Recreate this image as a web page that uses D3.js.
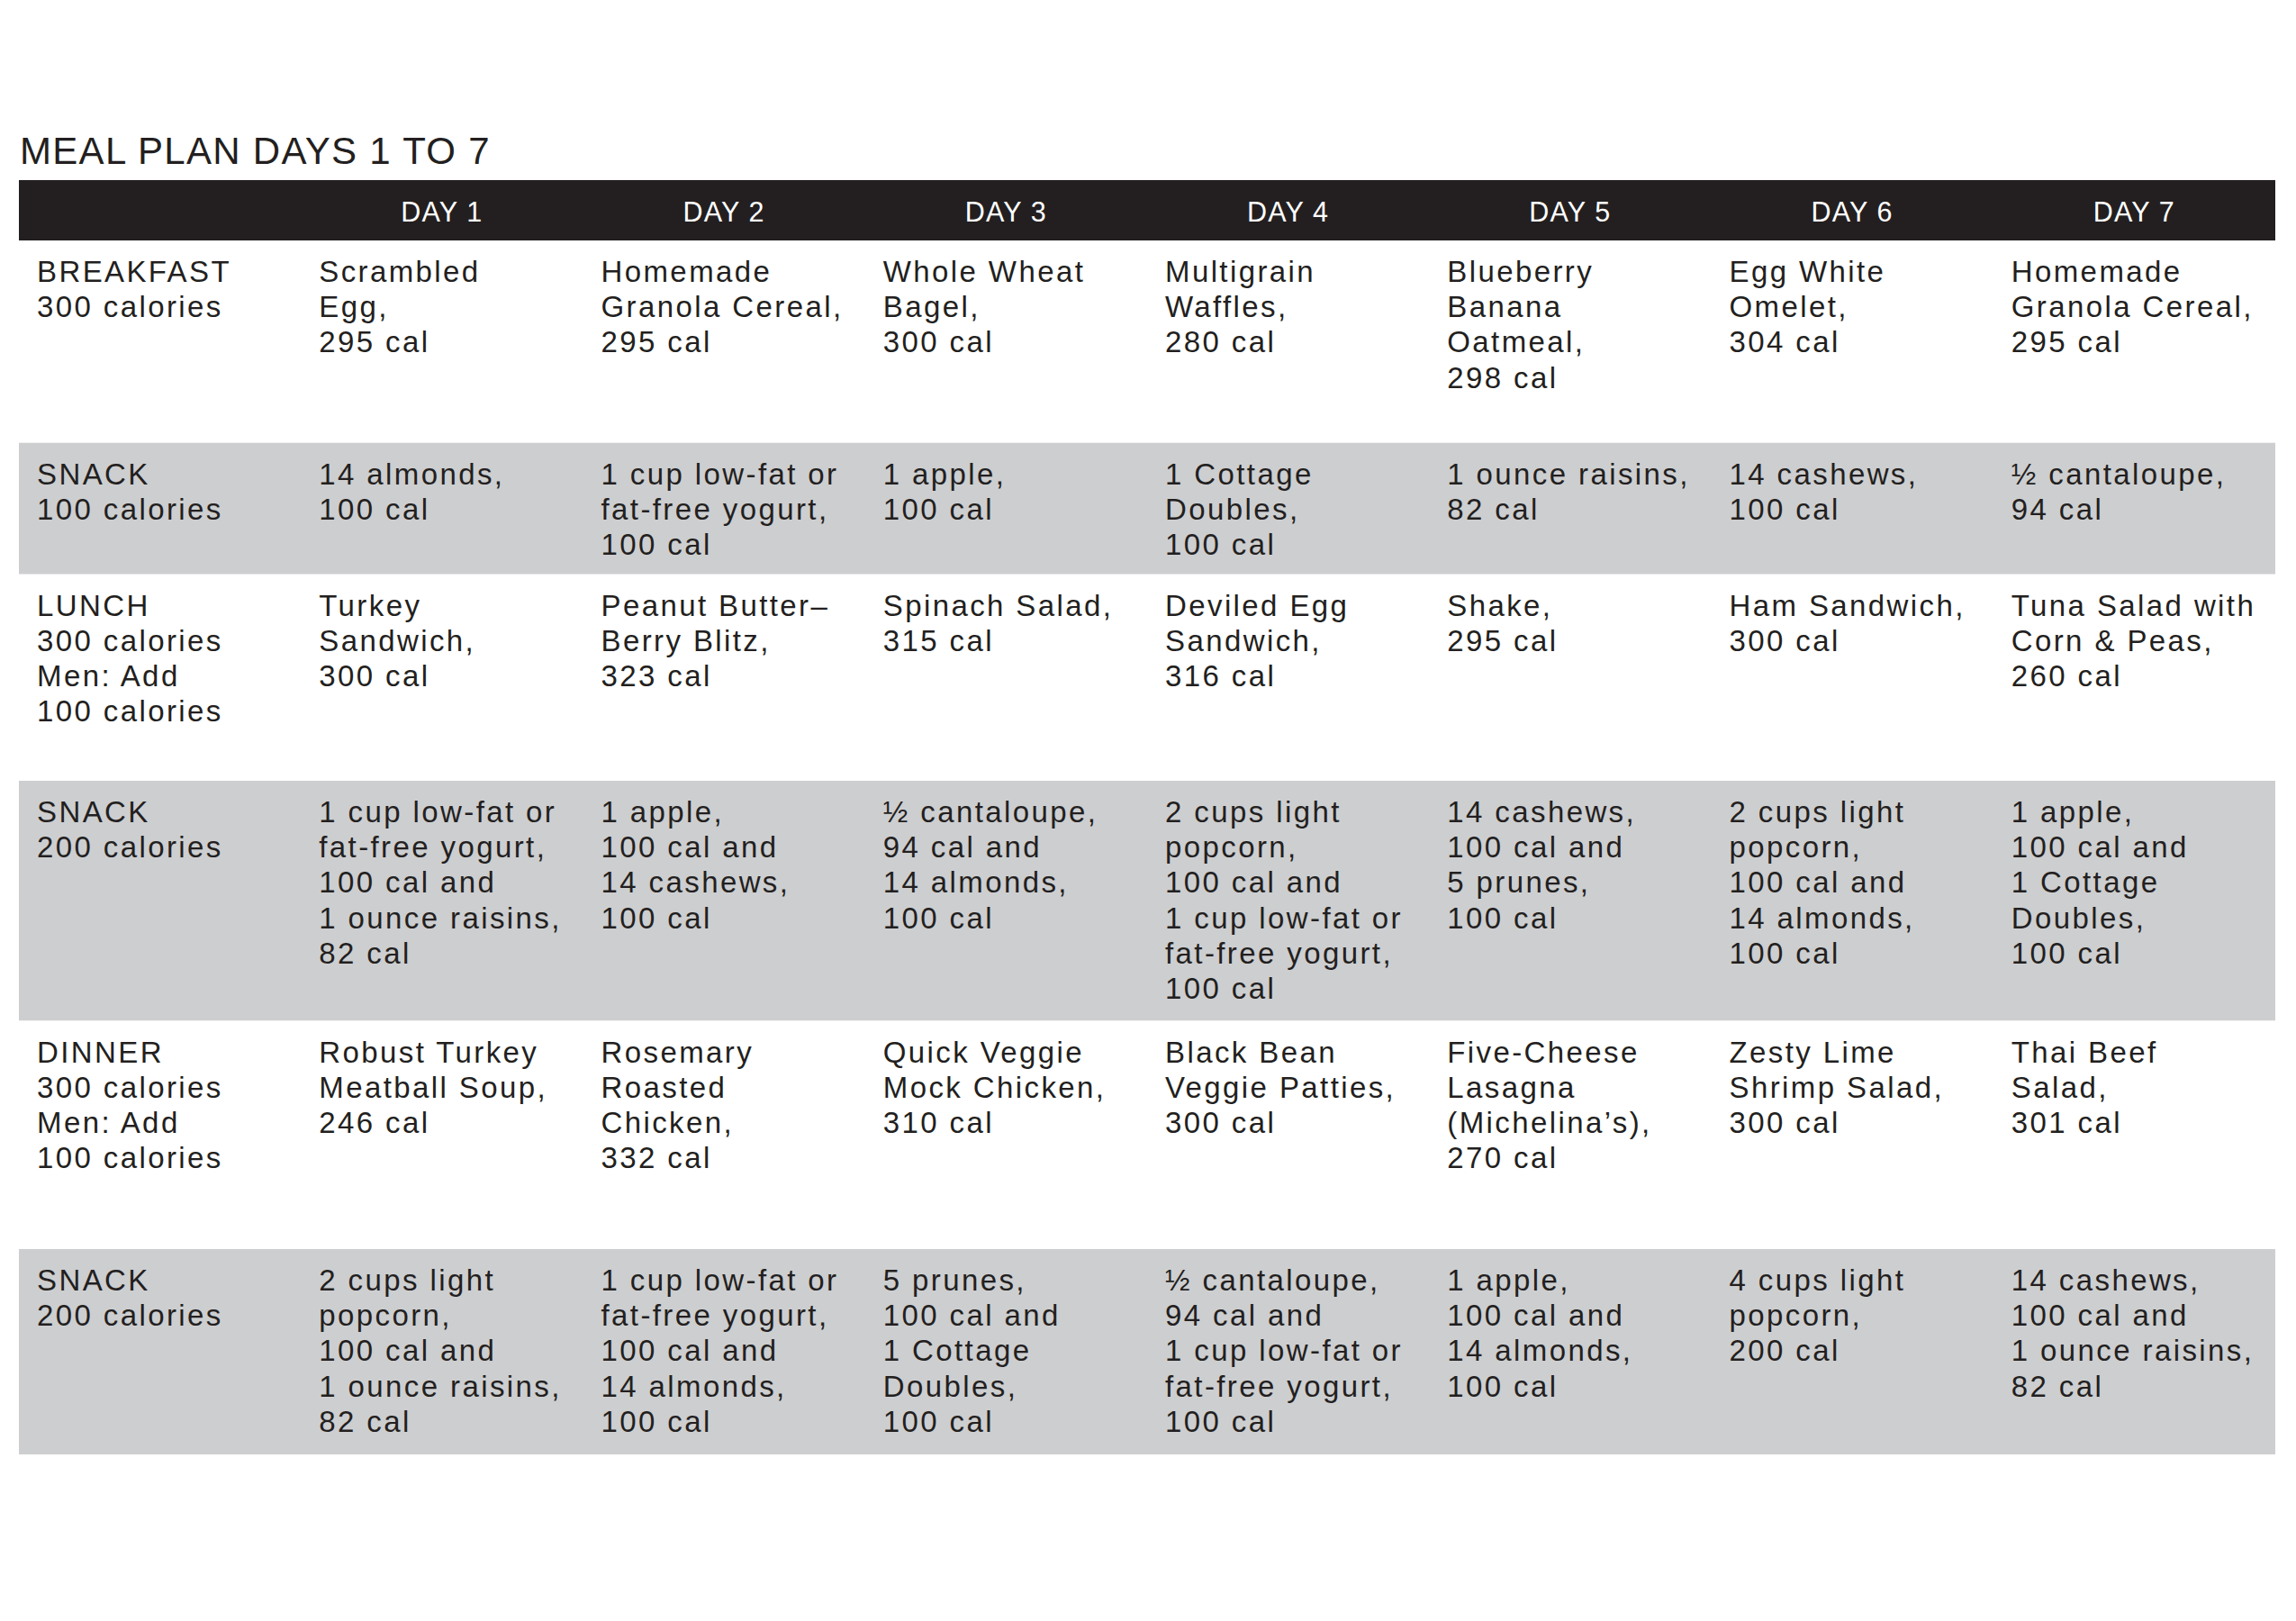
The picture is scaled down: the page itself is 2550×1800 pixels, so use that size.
<!DOCTYPE html>
<html>
<head>
<meta charset="utf-8">
<script src="https://cdn.jsdelivr.net/npm/d3@7"></script>
<style>
  body { margin:0; background:#fff; }
  text { font-family:"Liberation Sans", Arial, Helvetica, sans-serif; fill:#231f20; }
</style>
</head>
<body>
<script>
var title = "MEAL PLAN DAYS 1 TO 7";
var days = ["DAY 1","DAY 2","DAY 3","DAY 4","DAY 5","DAY 6","DAY 7"];

var meals = [
  ["BREAKFAST","300 calories"],
  ["SNACK","100 calories"],
  ["LUNCH","300 calories","Men: Add","100 calories"],
  ["SNACK","200 calories"],
  ["DINNER","300 calories","Men: Add","100 calories"],
  ["SNACK","200 calories"]
];

var breakfast = [
  ["Scrambled","Egg,","295 cal"],
  ["Homemade","Granola Cereal,","295 cal"],
  ["Whole Wheat","Bagel,","300 cal"],
  ["Multigrain","Waffles,","280 cal"],
  ["Blueberry","Banana","Oatmeal,","298 cal"],
  ["Egg White","Omelet,","304 cal"],
  ["Homemade","Granola Cereal,","295 cal"]
];
var snack1 = [
  ["14 almonds,","100 cal"],
  ["1 cup low-fat or","fat-free yogurt,","100 cal"],
  ["1 apple,","100 cal"],
  ["1 Cottage","Doubles,","100 cal"],
  ["1 ounce raisins,","82 cal"],
  ["14 cashews,","100 cal"],
  ["\u00bd cantaloupe,","94 cal"]
];
var lunch = [
  ["Turkey","Sandwich,","300 cal"],
  ["Peanut Butter\u2013","Berry Blitz,","323 cal"],
  ["Spinach Salad,","315 cal"],
  ["Deviled Egg","Sandwich,","316 cal"],
  ["Shake,","295 cal"],
  ["Ham Sandwich,","300 cal"],
  ["Tuna Salad with","Corn & Peas,","260 cal"]
];
var snack2 = [
  ["1 cup low-fat or","fat-free yogurt,","100 cal and","1 ounce raisins,","82 cal"],
  ["1 apple,","100 cal and","14 cashews,","100 cal"],
  ["\u00bd cantaloupe,","94 cal and","14 almonds,","100 cal"],
  ["2 cups light","popcorn,","100 cal and","1 cup low-fat or","fat-free yogurt,","100 cal"],
  ["14 cashews,","100 cal and","5 prunes,","100 cal"],
  ["2 cups light","popcorn,","100 cal and","14 almonds,","100 cal"],
  ["1 apple,","100 cal and","1 Cottage","Doubles,","100 cal"]
];
var dinner = [
  ["Robust Turkey","Meatball Soup,","246 cal"],
  ["Rosemary","Roasted","Chicken,","332 cal"],
  ["Quick Veggie","Mock Chicken,","310 cal"],
  ["Black Bean","Veggie Patties,","300 cal"],
  ["Five-Cheese","Lasagna","(Michelina\u2019s),","270 cal"],
  ["Zesty Lime","Shrimp Salad,","300 cal"],
  ["Thai Beef","Salad,","301 cal"]
];
var snack3 = [
  ["2 cups light","popcorn,","100 cal and","1 ounce raisins,","82 cal"],
  ["1 cup low-fat or","fat-free yogurt,","100 cal and","14 almonds,","100 cal"],
  ["5 prunes,","100 cal and","1 Cottage","Doubles,","100 cal"],
  ["\u00bd cantaloupe,","94 cal and","1 cup low-fat or","fat-free yogurt,","100 cal"],
  ["1 apple,","100 cal and","14 almonds,","100 cal"],
  ["4 cups light","popcorn,","200 cal"],
  ["14 cashews,","100 cal and","1 ounce raisins,","82 cal"]
];

var menu = [breakfast, snack1, lunch, snack2, dinner, snack3];

// layout
var W = 2550, H = 1800;
var left = 21, right = 2527;
var headTop = 200, headBottom = 267;
var rowHeights = [224.7, 146, 229.3, 266.5, 253.5, 228];
var shaded = [false, true, false, true, false, true];
var lineH = 39.2, firstBase = 46, padX = 20;
var dark = "#231f20", grey = "#cdced0";

var x = d3.scaleBand().domain(["meal"].concat(days)).range([left, right]);

var rowTop = [];
rowHeights.reduce(function(acc, h, i) { rowTop[i] = acc; return acc + h; }, headBottom);

var svg = d3.select("body").append("svg")
  .attr("width", W).attr("height", H)
  .style("display", "block");

svg.append("text")
  .attr("x", 22).attr("y", 182)
  .style("font-size", "42px")
  .style("letter-spacing", "1.3px")
  .text(title);

svg.append("rect")
  .attr("x", left).attr("y", headTop)
  .attr("width", right - left).attr("height", headBottom - headTop)
  .attr("fill", dark);

svg.selectAll(".day").data(days).enter().append("text")
  .attr("class", "day")
  .attr("x", function(d) { return x(d) + x.bandwidth() / 2; })
  .attr("y", 246)
  .attr("text-anchor", "middle")
  .style("font-size", "30.5px")
  .style("letter-spacing", "1.2px")
  .style("fill", "#fff")
  .text(function(d) { return d; });

var rows = svg.selectAll(".row").data(menu).enter().append("g")
  .attr("class", "row")
  .attr("transform", function(d, i) { return "translate(0," + rowTop[i] + ")"; });

rows.append("rect")
  .attr("x", left).attr("width", right - left)
  .attr("height", function(d, i) { return rowHeights[i]; })
  .attr("fill", function(d, i) { return shaded[i] ? grey : "#fff"; });

function cell(sel, key, lines) {
  sel.append("text")
    .attr("x", x(key) + padX)
    .attr("y", firstBase)
    .style("font-size", "33px")
    .style("letter-spacing", "2.4px")
    .selectAll("tspan").data(lines).enter().append("tspan")
    .attr("x", x(key) + padX)
    .attr("dy", function(d, i) { return i ? lineH : 0; })
    .text(function(d) { return d; });
}

rows.each(function(row, i) {
  var g = d3.select(this);
  cell(g, "meal", meals[i]);
  row.forEach(function(lines, j) { cell(g, days[j], lines); });
});
</script>
</body>
</html>
